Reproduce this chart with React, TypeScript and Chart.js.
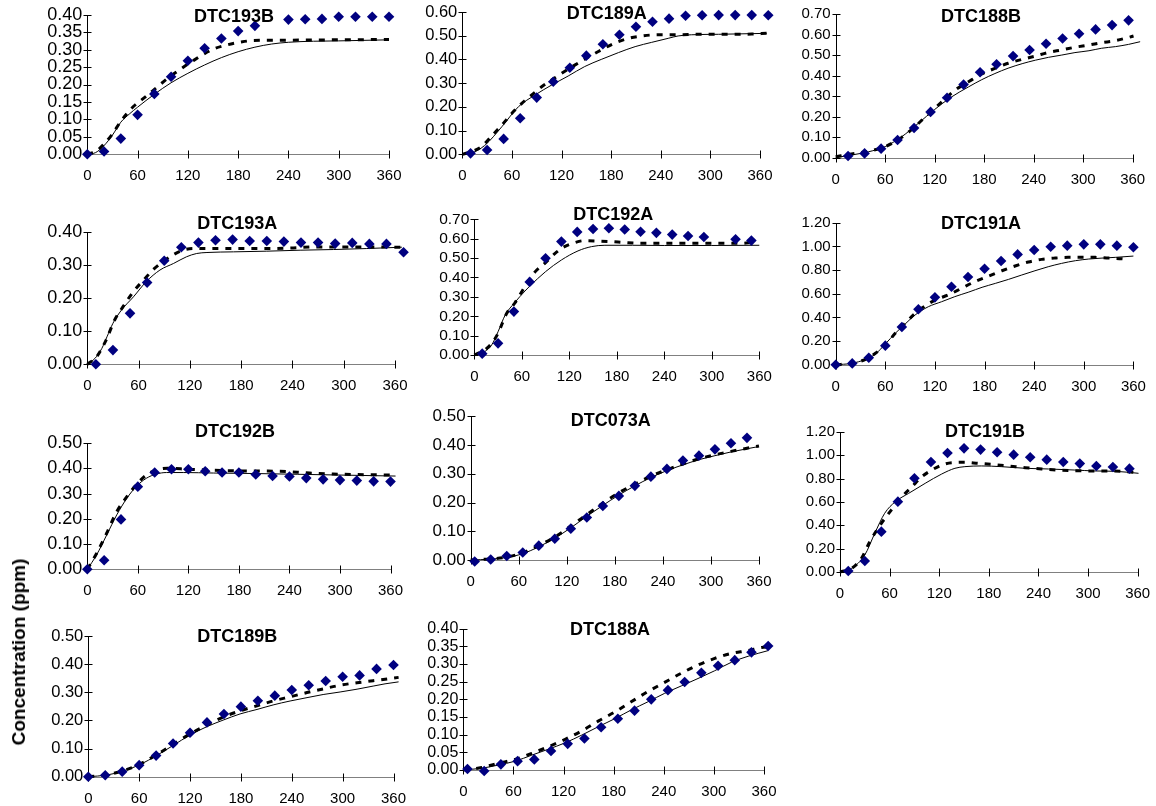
import React, { useEffect, useRef } from "react";
import { Chart, registerables } from "chart.js";

Chart.register(...registerables);

type Pair = [number, number];

// ---- DTC193B ----
const dtc193bObs: Pair[] = [[0,0],[20,0.008],[40,0.045],[60,0.113],[80,0.173],[100,0.222],[120,0.268],[140,0.304],[160,0.332],[180,0.353],[200,0.368],[240,0.386],[260,0.387],[280,0.388],[300,0.394],[320,0.394],[340,0.394],[360,0.394]];
const dtc193bDash: Pair[] = [[0,0],[10,0.008],[19,0.027],[29,0.055],[41,0.098],[55,0.137],[67,0.160],[83,0.192],[95,0.216],[109,0.240],[123,0.263],[150,0.301],[166,0.313],[182,0.321],[198,0.326],[234,0.327],[300,0.328],[360,0.329]];
const dtc193bSolid: Pair[] = [[0,0],[10,0.005],[20,0.025],[30,0.055],[40,0.092],[50,0.115],[60,0.135],[80,0.172],[100,0.205],[120,0.232],[140,0.256],[160,0.277],[180,0.294],[200,0.307],[220,0.316],[240,0.321],[270,0.324],[300,0.325],[360,0.328]];

// ---- DTC189A ----
const dtc189aObs: Pair[] = [[10,0.004],[30,0.018],[50,0.065],[70,0.152],[90,0.239],[110,0.306],[130,0.365],[150,0.416],[170,0.464],[190,0.504],[210,0.538],[230,0.559],[250,0.572],[270,0.584],[290,0.586],[310,0.587],[330,0.587],[350,0.587],[370,0.586]];
const dtc189aDash: Pair[] = [[0,0],[11,0.011],[23,0.032],[35,0.075],[48,0.124],[60,0.173],[72,0.215],[84,0.250],[96,0.285],[108,0.313],[120,0.341],[136,0.376],[153,0.411],[169,0.442],[185,0.470],[201,0.489],[217,0.499],[237,0.504],[261,0.504],[285,0.506],[310,0.506],[350,0.507],[368,0.510]];
const dtc189aSolid: Pair[] = [[0,0],[10,0.004],[27,0.037],[48,0.117],[68,0.201],[88,0.250],[108,0.292],[128,0.330],[148,0.370],[168,0.400],[189,0.429],[209,0.454],[229,0.472],[249,0.489],[261,0.499],[277,0.504],[310,0.506],[368,0.510]];

// ---- DTC188B ----
const dtc188bObs: Pair[] = [[15,0.008],[35,0.021],[55,0.044],[75,0.086],[95,0.145],[115,0.223],[135,0.292],[155,0.356],[175,0.416],[195,0.455],[215,0.495],[235,0.525],[255,0.555],[275,0.581],[295,0.604],[315,0.625],[335,0.646],[355,0.669]];
const dtc188bDash: Pair[] = [[0,0.005],[19,0.018],[40,0.032],[60,0.054],[80,0.099],[96,0.151],[113,0.216],[129,0.273],[145,0.330],[161,0.370],[177,0.408],[193,0.435],[209,0.460],[226,0.479],[242,0.495],[258,0.513],[274,0.525],[290,0.538],[307,0.549],[322,0.560],[339,0.570],[355,0.586],[361,0.593]];
const dtc188bSolid: Pair[] = [[0,0],[19,0.013],[40,0.029],[60,0.054],[80,0.102],[100,0.167],[120,0.235],[140,0.295],[161,0.345],[177,0.380],[193,0.410],[209,0.436],[226,0.458],[242,0.475],[258,0.489],[274,0.500],[290,0.512],[307,0.521],[322,0.533],[339,0.541],[355,0.552],[369,0.565]];

// ---- DTC193A ----
const dtc193aObs: Pair[] = [[10,0.0],[30,0.043],[50,0.154],[70,0.247],[90,0.313],[110,0.354],[130,0.368],[150,0.375],[170,0.377],[190,0.373],[210,0.373],[230,0.371],[250,0.368],[270,0.368],[290,0.365],[310,0.367],[330,0.364],[350,0.364],[370,0.339]];
const dtc193aDash: Pair[] = [[0,0],[11,0.023],[22,0.073],[32,0.134],[42,0.175],[54,0.220],[66,0.255],[77,0.286],[89,0.311],[101,0.332],[112,0.345],[124,0.350],[171,0.350],[210,0.350],[241,0.352],[268,0.355],[320,0.355],[368,0.354]];
const dtc193aSolid: Pair[] = [[0,0],[9,0.018],[17,0.048],[23,0.083],[30,0.124],[40,0.164],[54,0.204],[69,0.250],[85,0.285],[101,0.305],[116,0.325],[128,0.335],[140,0.338],[171,0.340],[210,0.342],[249,0.345],[288,0.347],[327,0.350],[368,0.354]];

// ---- DTC192A ----
const dtc192aObs: Pair[] = [[10,0.007],[30,0.060],[50,0.224],[70,0.377],[90,0.499],[110,0.585],[130,0.635],[150,0.650],[170,0.654],[190,0.647],[210,0.636],[230,0.630],[250,0.621],[270,0.614],[290,0.609],[330,0.597],[350,0.590]];
const dtc192aDash: Pair[] = [[0,0],[13,0.026],[22,0.060],[30,0.112],[41,0.215],[51,0.267],[64,0.353],[77,0.430],[89,0.473],[102,0.524],[114,0.559],[127,0.580],[139,0.590],[156,0.588],[173,0.585],[190,0.580],[211,0.576],[253,0.576],[295,0.576],[338,0.576],[350,0.581]];
const dtc192aSolid: Pair[] = [[0,0],[13,0.017],[22,0.052],[30,0.120],[39,0.206],[51,0.270],[64,0.330],[70,0.355],[90,0.430],[110,0.490],[131,0.537],[148,0.559],[165,0.566],[200,0.566],[240,0.565],[300,0.565],[360,0.566]];

// ---- DTC191A ----
const dtc191aObs: Pair[] = [[0,0],[20,0.011],[40,0.059],[60,0.161],[80,0.318],[100,0.468],[120,0.569],[140,0.659],[160,0.741],[180,0.811],[200,0.876],[220,0.932],[240,0.969],[260,0.997],[280,1.006],[300,1.017],[320,1.017],[340,1.006],[360,0.992]];
const dtc191aDash: Pair[] = [[0,0],[19,0.011],[36,0.045],[48,0.096],[60,0.166],[72,0.265],[84,0.349],[96,0.434],[108,0.496],[120,0.546],[136,0.589],[152,0.645],[168,0.701],[185,0.749],[201,0.794],[217,0.834],[233,0.868],[249,0.890],[265,0.901],[281,0.907],[298,0.907],[314,0.907],[330,0.901],[346,0.896],[354,0.890]];
const dtc191aSolid: Pair[] = [[0,0],[19,0.011],[36,0.045],[48,0.090],[60,0.175],[72,0.265],[84,0.344],[96,0.420],[112,0.490],[128,0.532],[144,0.575],[161,0.614],[177,0.654],[193,0.687],[209,0.721],[225,0.758],[241,0.794],[257,0.828],[273,0.856],[290,0.879],[306,0.893],[322,0.901],[338,0.907],[360,0.918]];

// ---- DTC192B ----
const dtc192bObs: Pair[] = [[0,0],[20,0.036],[40,0.198],[60,0.328],[80,0.384],[100,0.397],[120,0.397],[140,0.389],[160,0.384],[180,0.384],[200,0.376],[220,0.370],[240,0.368],[260,0.362],[280,0.357],[300,0.354],[320,0.352],[340,0.349],[360,0.348]];
const dtc192bDash: Pair[] = [[0,0],[11,0.063],[23,0.143],[35,0.229],[47,0.288],[58,0.335],[70,0.374],[82,0.394],[95,0.401],[120,0.397],[150,0.393],[193,0.390],[229,0.389],[264,0.382],[292,0.378],[319,0.376],[343,0.375],[366,0.374]];
const dtc192bSolid: Pair[] = [[0,0],[11,0.057],[23,0.136],[35,0.216],[47,0.282],[58,0.328],[70,0.361],[82,0.378],[94,0.384],[114,0.384],[150,0.382],[200,0.380],[250,0.377],[300,0.374],[366,0.370]];

// ---- DTC073A ----
const dtc073aObs: Pair[] = [[5,-0.005],[25,0.002],[45,0.014],[65,0.026],[85,0.050],[105,0.074],[125,0.109],[145,0.148],[165,0.188],[185,0.223],[205,0.258],[225,0.290],[245,0.317],[265,0.346],[285,0.363],[305,0.385],[325,0.406],[345,0.425]];
const dtc073aDash: Pair[] = [[0,0],[25,0.004],[45,0.010],[65,0.025],[85,0.050],[105,0.080],[125,0.118],[145,0.158],[165,0.198],[185,0.234],[205,0.264],[225,0.292],[245,0.314],[265,0.334],[285,0.352],[305,0.366],[325,0.378],[345,0.389],[360,0.397]];
const dtc073aSolid: Pair[] = [[0,0],[25,0.003],[45,0.009],[65,0.022],[85,0.046],[105,0.076],[125,0.112],[145,0.152],[165,0.190],[185,0.226],[205,0.258],[225,0.287],[245,0.311],[265,0.331],[285,0.349],[305,0.363],[325,0.376],[345,0.387],[360,0.395]];

// ---- DTC191B ----
const dtc191bObs: Pair[] = [[10,0.009],[30,0.094],[50,0.346],[70,0.603],[90,0.803],[110,0.943],[130,1.020],[150,1.060],[170,1.049],[190,1.026],[210,1.006],[230,0.983],[250,0.963],[270,0.943],[290,0.929],[310,0.909],[330,0.900],[350,0.886]];
const dtc191bDash: Pair[] = [[0,0],[14,0.031],[26,0.117],[36,0.260],[42,0.331],[50,0.417],[62,0.531],[75,0.646],[87,0.731],[99,0.817],[111,0.874],[123,0.917],[135,0.937],[151,0.940],[167,0.931],[183,0.923],[204,0.909],[224,0.894],[244,0.883],[264,0.874],[284,0.869],[304,0.866],[325,0.866],[345,0.860],[361,0.851]];
const dtc191bSolid: Pair[] = [[0,0],[14,0.031],[30,0.146],[42,0.331],[54,0.503],[67,0.603],[83,0.674],[103,0.760],[123,0.840],[139,0.889],[151,0.903],[171,0.909],[195,0.903],[224,0.889],[252,0.883],[284,0.874],[308,0.866],[333,0.863],[361,0.846]];

// ---- DTC189B ----
const dtc189bObs: Pair[] = [[0,0],[20,0.005],[40,0.018],[60,0.041],[80,0.075],[100,0.118],[120,0.156],[140,0.193],[160,0.223],[180,0.249],[200,0.270],[220,0.288],[240,0.308],[260,0.325],[280,0.340],[300,0.355],[320,0.360],[340,0.383],[360,0.397]];
const dtc189bDash: Pair[] = [[0,0],[22,0.007],[41,0.021],[61,0.045],[81,0.079],[100,0.115],[120,0.152],[140,0.184],[159,0.212],[179,0.234],[199,0.252],[218,0.269],[238,0.284],[258,0.299],[277,0.312],[297,0.325],[317,0.334],[336,0.341],[366,0.353]];
const dtc189bSolid: Pair[] = [[0,0],[22,0.006],[41,0.020],[61,0.043],[81,0.076],[100,0.111],[120,0.148],[140,0.178],[159,0.201],[179,0.223],[199,0.239],[218,0.255],[238,0.269],[258,0.281],[277,0.292],[297,0.301],[317,0.311],[336,0.322],[350,0.330],[366,0.337]];

// ---- DTC188A ----
const dtc188aObs: Pair[] = [[5,0.003],[25,-0.003],[45,0.016],[65,0.025],[85,0.030],[105,0.054],[125,0.074],[145,0.089],[165,0.121],[185,0.145],[205,0.168],[225,0.200],[245,0.226],[265,0.249],[285,0.275],[305,0.295],[325,0.311],[345,0.333],[365,0.351]];
const dtc188aDash: Pair[] = [[0,0],[22,0.007],[42,0.019],[62,0.030],[82,0.047],[102,0.066],[122,0.087],[142,0.111],[162,0.139],[182,0.165],[201,0.193],[221,0.222],[241,0.248],[261,0.274],[281,0.297],[301,0.316],[321,0.330],[341,0.338],[357,0.347],[366,0.349]];
const dtc188aSolid: Pair[] = [[0,0],[22,0.005],[42,0.014],[62,0.025],[82,0.042],[102,0.059],[122,0.077],[142,0.099],[162,0.123],[182,0.146],[201,0.170],[221,0.193],[241,0.217],[261,0.238],[281,0.259],[301,0.281],[321,0.305],[341,0.322],[365,0.338]];

const panelTitles = ["DTC193B", "DTC189A", "DTC188B", "DTC193A", "DTC192A", "DTC191A", "DTC192B", "DTC073A", "DTC191B", "DTC189B", "DTC188A"];
const observedSeries = [dtc193bObs, dtc189aObs, dtc188bObs, dtc193aObs, dtc192aObs, dtc191aObs, dtc192bObs, dtc073aObs, dtc191bObs, dtc189bObs, dtc188aObs];
const dashedSeries = [dtc193bDash, dtc189aDash, dtc188bDash, dtc193aDash, dtc192aDash, dtc191aDash, dtc192bDash, dtc073aDash, dtc191bDash, dtc189bDash, dtc188aDash];
const solidSeries = [dtc193bSolid, dtc189aSolid, dtc188bSolid, dtc193aSolid, dtc192aSolid, dtc191aSolid, dtc192bSolid, dtc073aSolid, dtc191bSolid, dtc189bSolid, dtc188aSolid];
const yMaxValues = [0.4, 0.6, 0.7, 0.4, 0.7, 1.2, 0.5, 0.5, 1.2, 0.5, 0.4];
const yStepValues = [0.05, 0.1, 0.1, 0.1, 0.1, 0.2, 0.1, 0.1, 0.2, 0.1, 0.05];
const timeTicks = [0, 60, 120, 180, 240, 300, 360];
const timeMin = 0;
const timeMax = 360;
// the time scale runs a little past the last tick so late samples stay visible
const timeScaleEnd = 376;

// Page placement of each plot area: left, top, right (at t = 360), bottom, title centre x, title centre y
const plotFrames: number[][] = [
  [87.3, 14.7, 389, 154.3, 234, 16.7],
  [462.3, 12, 760, 154.3, 606.7, 14],
  [835.7, 14, 1132.7, 157.7, 981, 17.3],
  [87.3, 232, 395, 364.3, 237.3, 224],
  [474.3, 219.3, 759.3, 355, 613.3, 215],
  [835.7, 222.7, 1133.4, 364.7, 981, 224],
  [87.3, 443.3, 390.5, 569.3, 235, 432.3],
  [470.7, 416.3, 759, 560, 610.7, 420.7],
  [840, 432, 1137.7, 572, 985, 432.3],
  [88.3, 636, 393.5, 776.7, 237.3, 636.7],
  [463.3, 628.7, 764, 770, 610, 630],
];
// value-axis label size per panel
const yTickSizes = [18, 16.5, 15, 18, 15.5, 15, 18, 17, 15, 16.5, 16];

const FONT_FAMILY = "'Liberation Sans', Arial, Helvetica, sans-serif";
const X_TICK_SIZE = 15;
const TITLE_SIZE = 18;
const MARKER_COLOR = "#000080";

const toPoints = (arr: Pair[]) => arr.map(([x, y]) => ({ x, y }));

// Excel-style axes: black value axis, grey time axis, cross tick marks
const frameAxes = {
  id: "frameAxes",
  beforeDatasetsDraw(chart: any) {
    const { ctx, chartArea: a, scales } = chart;
    const xs = scales.x;
    const ys = scales.y;
    const ax = Math.round(a.left) + 0.5;
    const ay = Math.round(a.bottom) + 0.5;
    const xEnd = Math.round(xs.getPixelForValue(timeMax)) + 0.5;
    ctx.save();
    ctx.lineWidth = 1;
    ctx.strokeStyle = "#808080";
    ctx.beginPath();
    ctx.moveTo(ax, ay);
    ctx.lineTo(xEnd, ay);
    ctx.stroke();
    ctx.strokeStyle = "#000";
    ctx.beginPath();
    xs.ticks.forEach((t: any) => {
      const px = Math.round(xs.getPixelForValue(t.value)) + 0.5;
      ctx.moveTo(px, ay - 4);
      ctx.lineTo(px, ay + 4);
    });
    ys.ticks.forEach((t: any) => {
      const py = Math.round(ys.getPixelForValue(t.value)) + 0.5;
      ctx.moveTo(ax - 4, py);
      ctx.lineTo(ax + 4, py);
    });
    ctx.moveTo(ax, Math.round(a.top) + 0.5);
    ctx.lineTo(ax, ay);
    ctx.stroke();
    ctx.restore();
  },
};

function Panel({ index }: { index: number }) {
  const ref = useRef<HTMLCanvasElement>(null);
  const [L, T, R, B, tx, ty] = plotFrames[index];
  const cLeft = Math.max(0, Math.floor(L - 84));
  const cTop = Math.max(0, Math.floor(T - 24));
  const cRight = Math.ceil(R + 34);
  const cBottom = Math.ceil(B + 36);
  const w = cRight - cLeft;
  const h = cBottom - cTop;

  useEffect(() => {
    const canvas = ref.current;
    if (!canvas) return;
    const axisW = L - cLeft;
    const axisH = cBottom - B;
    const pxPerMin = (R - L) / (timeMax - timeMin);
    const areaRight = R + (timeScaleEnd - timeMax) * pxPerMin;
    const title = panelTitles[index];
    const titlePlugin = {
      id: "panelTitle",
      afterDraw(chart: any) {
        const ctx = chart.ctx;
        ctx.save();
        ctx.font = `bold ${TITLE_SIZE}px ${FONT_FAMILY}`;
        ctx.fillStyle = "#000";
        ctx.textAlign = "center";
        ctx.textBaseline = "middle";
        ctx.fillText(title, tx - cLeft, ty - cTop);
        ctx.restore();
      },
    };
    const chart = new Chart(canvas, {
      type: "scatter",
      data: {
        datasets: [
          {
            data: toPoints(observedSeries[index]),
            pointStyle: "rectRot",
            pointRadius: 5.3,
            pointBackgroundColor: MARKER_COLOR,
            pointBorderColor: MARKER_COLOR,
            pointBorderWidth: 0,
            showLine: false,
            clip: false,
          } as any,
          {
            data: toPoints(dashedSeries[index]),
            showLine: true,
            borderColor: "#000",
            borderWidth: 3,
            borderDash: [6, 7],
            pointRadius: 0,
            fill: false,
            cubicInterpolationMode: "monotone",
            clip: false,
          } as any,
          {
            data: toPoints(solidSeries[index]),
            showLine: true,
            borderColor: "#000",
            borderWidth: 1,
            pointRadius: 0,
            fill: false,
            cubicInterpolationMode: "monotone",
            clip: false,
          } as any,
        ],
      },
      options: {
        animation: false,
        responsive: false,
        devicePixelRatio: 1,
        events: [],
        layout: { padding: { left: 0, top: T - cTop, right: cRight - areaRight, bottom: 0 } },
        plugins: { legend: { display: false }, tooltip: { enabled: false }, title: { display: false } },
        scales: {
          x: {
            type: "linear",
            min: timeMin,
            max: timeScaleEnd,
            grid: { display: false, drawTicks: false, tickLength: 0 },
            border: { display: false },
            ticks: {
              padding: 13,
              color: "#000",
              maxRotation: 0,
              autoSkip: false,
              font: { family: FONT_FAMILY, size: X_TICK_SIZE },
            },
            afterBuildTicks: (s: any) => {
              s.ticks = timeTicks.map((v) => ({ value: v }));
            },
            afterFit: (s: any) => {
              s.height = axisH;
              s.paddingLeft = 0;
              s.paddingRight = 0;
            },
          },
          y: {
            type: "linear",
            min: 0,
            max: yMaxValues[index],
            grid: { display: false, drawTicks: false, tickLength: 0 },
            border: { display: false },
            ticks: {
              stepSize: yStepValues[index],
              padding: 5,
              color: "#000",
              autoSkip: false,
              font: { family: FONT_FAMILY, size: yTickSizes[index] },
              callback: (v: any) => Number(v).toFixed(2),
            },
            afterFit: (s: any) => {
              s.width = axisW;
              s.paddingTop = 0;
              s.paddingBottom = 0;
            },
          },
        },
      } as any,
      plugins: [frameAxes, titlePlugin],
    });
    return () => chart.destroy();
  }, [index]);

  return (
    <canvas
      ref={ref}
      width={w}
      height={h}
      style={{ position: "absolute", left: cLeft, top: cTop, width: w, height: h }}
    />
  );
}

export default function App() {
  return (
    <div
      style={{
        position: "absolute",
        left: 0,
        top: 0,
        width: 1156,
        height: 806,
        background: "#fff",
        overflow: "hidden",
      }}
    >
      {panelTitles.map((t, i) => (
        <Panel key={t} index={i} />
      ))}
      <div
        style={{
          position: "absolute",
          left: 19,
          top: 652,
          transform: "translate(-50%, -50%) rotate(-90deg)",
          font: `bold 19px ${FONT_FAMILY}`,
          whiteSpace: "nowrap",
          color: "#000",
        }}
      >
        Concentration (ppm)
      </div>
    </div>
  );
}
